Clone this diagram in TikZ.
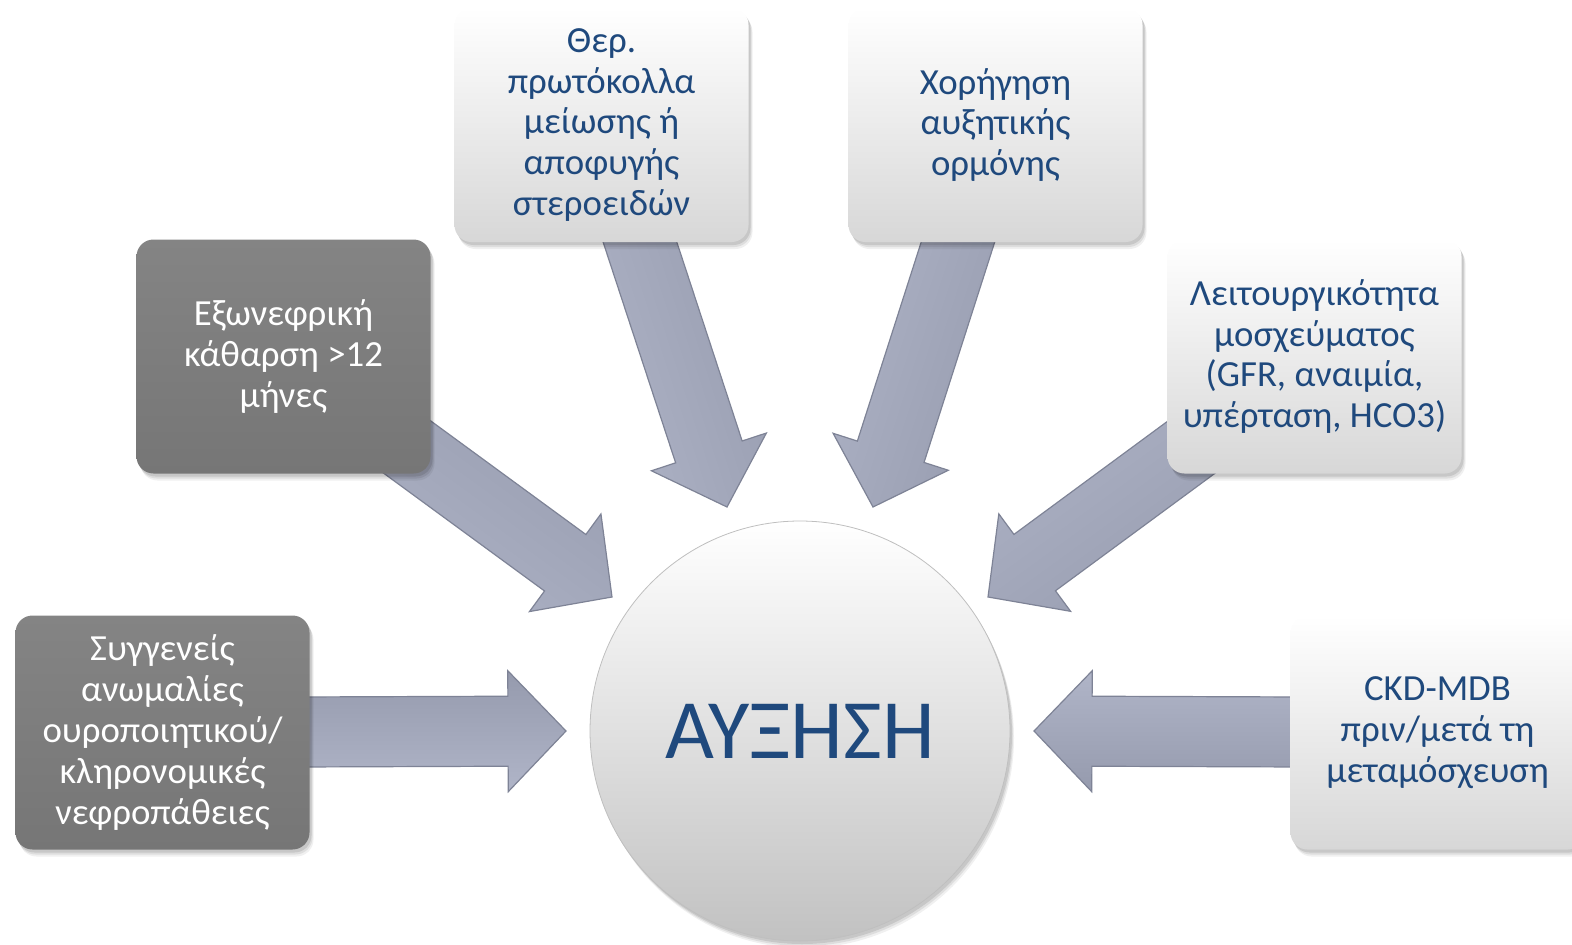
\documentclass[tikz,border=0pt]{standalone}
\usepackage{fontspec}
\setmainfont{Carlito}
\usetikzlibrary{calc,shadows}

\definecolor{txtblue}{HTML}{1F497D}
\definecolor{arrowtop}{HTML}{959AAD}
\definecolor{arrowfill}{HTML}{A1A6B9}
\definecolor{arrowlow}{HTML}{B0B5C8}
\definecolor{arrowedge}{HTML}{7E8396}
\definecolor{darkbox}{HTML}{848484}
\definecolor{darkboxlow}{HTML}{767676}
\definecolor{lightboxlow}{HTML}{D7D7D7}

\pgfdeclarelayer{back}
\pgfsetlayers{back,main}

\tikzset{
  softshadow/.style={
    general shadow={shadow xshift=2pt, shadow yshift=-3pt, fill=black, opacity=.10},
    general shadow={shadow xshift=3pt, shadow yshift=-5pt, fill=black, opacity=.08},
    general shadow={shadow xshift=4pt, shadow yshift=-7pt, fill=black, opacity=.06}},
  card/.style={rectangle, rounded corners=17pt, minimum width=294pt, minimum height=234pt,
    align=center, inner sep=0pt, font=\fontsize{36.8}{40.8}\selectfont, softshadow},
  darkcard/.style={card, top color=darkbox, bottom color=darkboxlow, text=white},
  lightcard/.style={card, top color=white, bottom color=lightboxlow, text=txtblue},
  hub/.style={circle, minimum size=420pt, inner sep=0pt, top color=white,
    bottom color=lightboxlow!90!black, draw=black!25, line width=.8pt, softshadow,
    text=txtblue, font=\fontsize{84.5}{90}\selectfont},
  arrowbody/.style={top color=arrowtop, middle color=arrowfill, bottom color=arrowlow,
    draw=arrowedge, line width=1.2pt, line join=miter},
}

% block arrow from the centre of node #1 to the tip coordinate #2,
% #3 is the direction of the arrow (used to turn its shading)
\newcommand\blockarrow[3]{%
  \coordinate (#2-base) at ($(#2)!58pt!(#1)$);
  \begin{pgfonlayer}{back}
  \path[arrowbody, shading angle=#3]
    ($(#1)!35pt!90:(#2)$) -- ($(#2-base)!35pt!90:(#2)$)
    -- ($(#2-base)!60.5pt!90:(#2)$) -- (#2)
    -- ($(#2-base)!60.5pt!-90:(#2)$) -- ($(#2-base)!35pt!-90:(#2)$)
    -- ($(#1)!35pt!-90:(#2)$) -- cycle;
  \end{pgfonlayer}}

\begin{document}
\begin{tikzpicture}[x=1pt, y=-1pt]
  \useasboundingbox (0,0) rectangle (1572,945);

  % central circle
  \node[hub] (growth) at (800,731) {ΑΥΞΗΣΗ};

  % surrounding factors
  \node[darkcard] (congen) at (162.5,732.5)
    {Συγγενείς\\ανωμαλίες\\ουροποιητικού/\\κληρονομικές\\νεφροπάθειες};
  \node[darkcard] (dialysis) at (283.5,356.5)
    {Εξωνεφρική\\κάθαρση >12\\μήνες};
  \node[lightcard] (steroid) at (601.5,125)
    {Θερ.\\πρωτόκολλα\\μείωσης ή\\αποφυγής\\στεροειδών};
  \node[lightcard] (hormone) at (995.5,125)
    {Χορήγηση\\αυξητικής\\ορμόνης};
  \node[lightcard] (graft) at (1314.5,356.5)
    {Λειτουργικότητα\\μοσχεύματος\\(GFR, αναιμία,\\υπέρταση, HCO3)};
  \node[lightcard] (ckd) at (1437.5,732.5)
    {CKD-MDB\\πριν/μετά τη\\μεταμόσχευση};

  % arrow tips around the circle
  \coordinate (tcongen)   at (566,731);
  \coordinate (tdialysis) at (612,597);
  \coordinate (tsteroid)  at (727,507);
  \coordinate (thormone)  at (873,507);
  \coordinate (tgraft)    at (988,597);
  \coordinate (tckd)      at (1034,731);

  \blockarrow{congen}{tcongen}{0}
  \blockarrow{dialysis}{tdialysis}{-36}
  \blockarrow{steroid}{tsteroid}{-72}
  \blockarrow{hormone}{thormone}{-108}
  \blockarrow{graft}{tgraft}{-144}
  \blockarrow{ckd}{tckd}{180}
\end{tikzpicture}
\end{document}
